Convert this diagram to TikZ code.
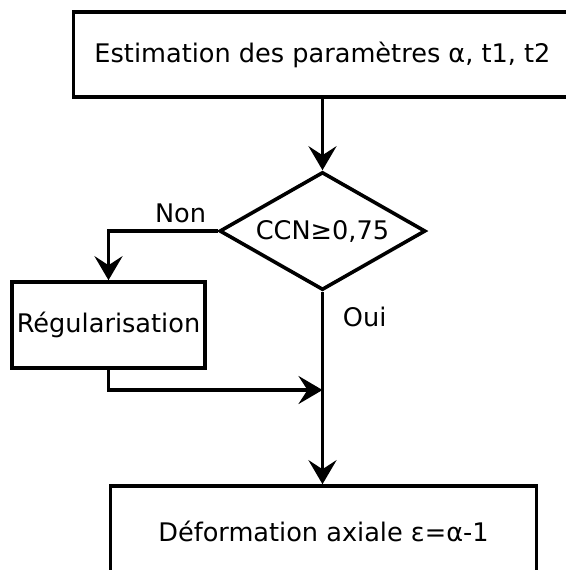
\documentclass[tikz,border=0pt]{standalone}
\usepackage{fontspec}
\setmainfont{DejaVu Sans}
\usetikzlibrary{arrows.meta, positioning, shapes.geometric}

\tikzset{
    block/.style={draw, line width=1.8pt, rectangle, inner sep=0pt, font=\fontsize{12.8}{15}\selectfont},
    decision/.style={draw, line width=1.8pt, diamond, aspect=1.75, inner sep=0pt, minimum width=103pt, minimum height=59pt, font=\fontsize{12.8}{15}\selectfont},
    flow/.style={line width=1.8pt, -{Stealth[length=12pt, width=14pt, inset=4.5pt]}},
    tag/.style={font=\fontsize{12.8}{15}\selectfont}
}

\begin{document}
\begin{tikzpicture}[x=0.5pt, y=-0.5pt]
    \useasboundingbox (0,0) rectangle (566,570);
    \clip (0,0) rectangle (566,570);

    % blocks
    \node[block, minimum width=249pt, minimum height=42.5pt] (est) at (322.5,54.5) {Estimation des paramètres α, t1, t2};
    \node[decision] (dec) at (322.5,231) {CCN≥0,75};
    \node[block, minimum width=96.5pt, minimum height=43pt] (reg) at (108.5,325) {Régularisation};
    \node[block, minimum width=213pt, minimum height=45pt] (res) at (323.5,531) {Déformation axiale ε=α-1};
    \coordinate (merge) at (dec.south |- 0,390);

    % connectors
    \draw[flow] (est) -- (dec);
    \draw[flow] (dec.west) -| node[tag, above, pos=0.17] {Non} (reg);
    \draw[flow] (reg.south) |- (merge);
    \draw[flow] (dec.south) -- node[tag, right=6pt, pos=0.13] {Oui} (dec.south |- res.north);
\end{tikzpicture}
\end{document}
